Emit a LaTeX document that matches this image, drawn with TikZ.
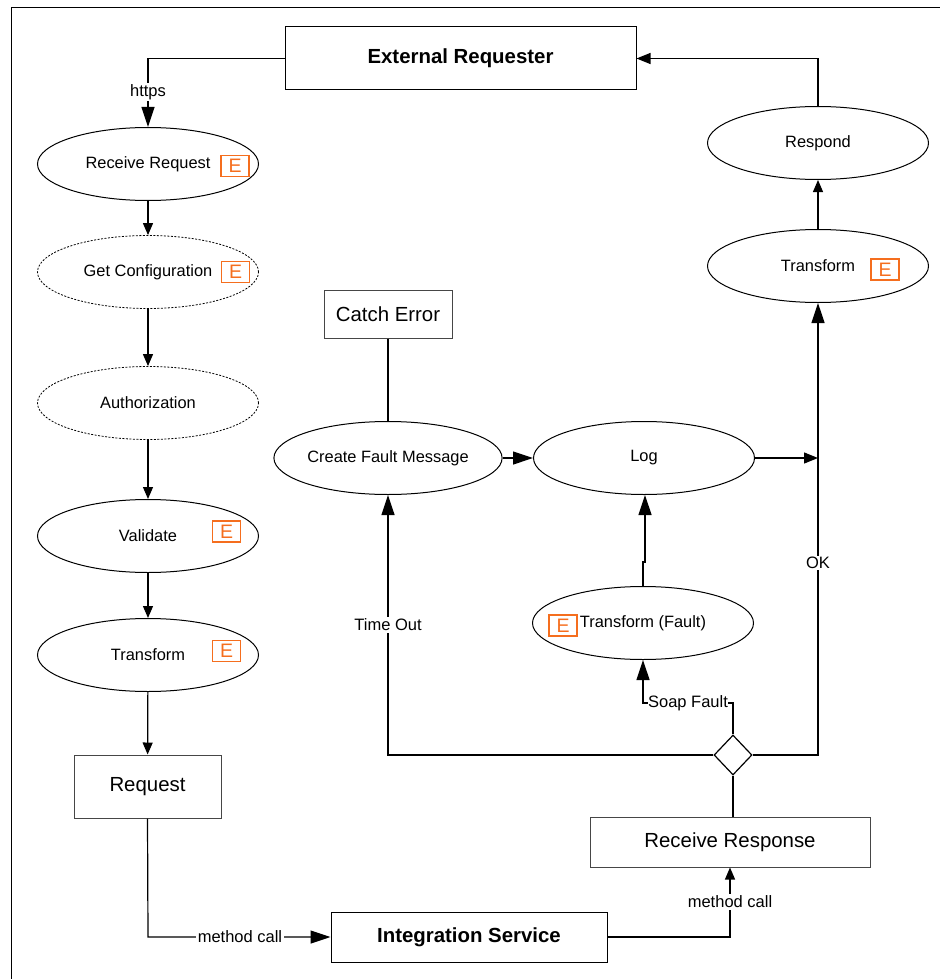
\documentclass[tikz,border=0pt]{standalone}
\usepackage{fontspec}
\setmainfont{Liberation Sans}
\usetikzlibrary{arrows.meta,shapes.geometric}
\definecolor{eorange}{RGB}{245,110,30}
\definecolor{boxgray}{RGB}{70,70,70}
\tikzset{
  proc/.style={ellipse,draw=black,line width=1pt,minimum width=221pt,minimum height=73pt,inner sep=0pt,font=\fontsize{16.4}{19}\selectfont},
  dproc/.style={proc,dash pattern=on 2pt off 1.5pt,line width=0.8pt},
  ebox/.style={draw=eorange,line width=1.2pt,text=eorange,minimum width=28pt,minimum height=21pt,inner sep=0pt,font=\fontsize{19.5}{20}\selectfont},
  plainbox/.style={rectangle,draw=boxgray,line width=1pt,inner sep=0pt,font=\fontsize{20.4}{24}\selectfont},
  boldbox/.style={rectangle,draw=black,line width=1pt,inner sep=0pt,font=\fontsize{20.4}{24}\selectfont\bfseries},
  conn/.style={line width=1.2pt},
  bigarr/.style={conn,-{Triangle[length=20pt,width=13pt]}},
  medarr/.style={conn,-{Triangle[length=14pt,width=11pt]}},
  smallarr/.style={conn,-{Triangle[length=12pt,width=10pt]}},
  lbl/.style={fill=white,inner sep=1.5pt,font=\fontsize{16.5}{19}\selectfont},
  gate/.style={diamond,draw=black,line width=1.2pt,minimum width=38pt,minimum height=40pt,inner sep=0pt,aspect=0.95}
}
\begin{document}
\begin{tikzpicture}[x=1pt,y=-1pt]
\useasboundingbox (0,0) rectangle (940,979);
\draw[line width=1.3pt] (11.5,979) -- (11.5,7.5) -- (940,7.5);

% boxes
\node[boldbox,minimum width=351pt,minimum height=63pt] (ext) at (460.5,58.5) {External Requester};
\node[plainbox,minimum width=147pt,minimum height=63pt] (req) at (147.5,786.5) {Request};
\node[boldbox,minimum width=276pt,minimum height=50pt] (isvc) at (469,937) {Integration Service};
\node[plainbox,minimum width=280pt,minimum height=50pt] (rresp) at (730,842) {Receive Response};
\node[plainbox,minimum width=128pt,minimum height=48pt] (catch) at (388,314) {Catch Error};
\node[gate] (gw) at (733,755) {};

% left column
\node[proc] (recv) at (148,164) {Receive Request};
\node[dproc] (getc) at (148,272) {Get Configuration};
\node[dproc] (auth) at (148,403) {Authorization};
\node[proc] (valid) at (148,536) {Validate};
\node[proc] (trl) at (148,655) {Transform};

% middle / right
\node[proc] (cfm) at (388,458) {Create Fault Message};
\node[proc] (log) at (644,458) {Log};
\node[proc] (tf) at (643,623) {Transform (Fault)};
\node[proc] (trr) at (818,266) {Transform};
\node[proc] (resp) at (818,143) {Respond};

% E markers
\node[ebox] (e1) at (235,166) {E};
\node[ebox] (e2) at (235.5,272) {E};
\node[ebox] (e3) at (226.5,531.5) {E};
\node[ebox] (e4) at (226.5,651) {E};
\node[ebox] (e5) at (885,269.5) {E};
\node[ebox] (e6) at (563,625.5) {E};

% junction coordinates
\coordinate (j1) at (148,58.5);
\coordinate (j2) at (148,937);
\coordinate (j3) at (730,937);
\coordinate (j4) at (388,755);
\coordinate (j5) at (818,755);
\coordinate (j6) at (733,703);
\coordinate (j7) at (643,703);
\coordinate (j8) at (818,458);
\coordinate (j9) at (818,58.5);
\coordinate (k1) at (643,562);
\coordinate (k2) at (645,562);

% connectors
\draw[bigarr] (ext.west) -- (j1) -- (recv.north);
\node[lbl] (lhttps) at (148,92) {https};
\draw[smallarr] (recv) -- (getc);
\draw[smallarr] (getc) -- (auth);
\draw[smallarr] (auth) -- (valid);
\draw[smallarr] (valid) -- (trl);
\draw[smallarr] (trl) -- (req);
\draw[bigarr] (req.south) -- (j2) -- (isvc.west);
\node[lbl] (lmc1) at (240,937) {method call};
\draw[smallarr] (isvc.east) -- (j3) -- (j3 |- rresp.south);
\node[lbl] (lmc2) at (730,902) {method call};
\draw[conn] (gw.south) -- (gw.south |- rresp.north);
\draw[bigarr] (gw.west) -- (j4) -- (cfm.south);
\node[lbl] (lto) at (388,625) {Time Out};
\draw[bigarr] (gw.east) -- (j5) -- (trr.south);
\node[lbl] (lok) at (818,563) {OK};
\draw[bigarr] (gw.north) -- (j6) -- (j7) -- (tf.south);
\node[lbl,inner sep=0.5pt] (lsf) at (688,703) {Soap Fault};
\draw[bigarr] (tf.north) -- (k1) -- (k2) -- (k2 |- log.south);
\draw[conn] (catch.south) -- (cfm.north);
\draw[bigarr] (cfm.east) -- (log.west);
\draw[medarr] (log.east) -- (j8);
\draw[smallarr] (trr.north) -- (resp.south);
\draw[medarr] (resp.north) -- (j9) -- (ext.east);
\end{tikzpicture}
\end{document}
